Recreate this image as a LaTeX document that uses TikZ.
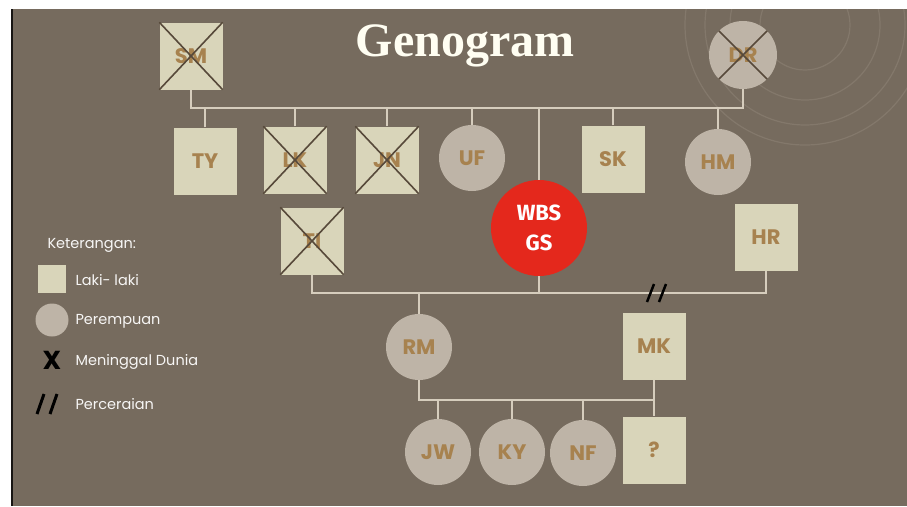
\documentclass[tikz,border=0pt]{standalone}
\usepackage{fontspec}
\setmainfont{Liberation Serif}
\newfontfamily\popfont{Poppins}
\newfontfamily\firafont{Fira Sans}
\usetikzlibrary{positioning}
\definecolor{bgbrown}{HTML}{766B5E}
\definecolor{cream}{HTML}{D9D5BA}
\definecolor{greyc}{HTML}{BEB4A7}
\definecolor{labbrown}{HTML}{A7824F}
\definecolor{linec}{HTML}{D6CDBD}
\definecolor{crossc}{HTML}{57493A}
\definecolor{wbsred}{HTML}{E4281C}

\begin{document}
\begin{tikzpicture}[x=1pt,y=-1pt,
    male/.style={fill=cream,minimum width=63pt,minimum height=67pt,inner sep=0pt,
      font=\popfont\bfseries\fontsize{21}{24}\selectfont,text=labbrown},
    female/.style={circle,fill=greyc,minimum size=66pt,inner sep=0pt,
      font=\popfont\bfseries\fontsize{21}{24}\selectfont,text=labbrown},
    link/.style={draw=linec,line width=2pt},
    dead/.style={draw=crossc,line width=1.6pt},
    legtext/.style={anchor=west,text=white!94!bgbrown,font=\popfont\fontsize{14.5}{16}\selectfont},
    split/.style={draw=black,line width=3pt}]
    \useasboundingbox (0,0) rectangle (907,506);
    \fill[white] (0,0) rectangle (907,506);
    \fill[bgbrown] (13,9) rectangle (907,506);
    \fill[black!80!bgbrown] (11,9) rectangle (13,506);
    % decorative rings
    \begin{scope}
        \clip (13,9) rectangle (907,506);
        \foreach \r in {45,75,100,120}
            \draw[linec,opacity=0.14,line width=1.2pt] (805,25) circle (\r);
    \end{scope}
    \node[text=white!95!yellow,font=\bfseries\fontsize{48}{52}\selectfont] (title) at (465,46) {Genogram};

    % grandparents
    \node[male] (sm) at (191,56) {SM};
    \node[female,minimum size=68pt] (dr) at (743,55) {DR};
    \coordinate (m1) at (465,108);
    % children
    \node[male] (ty) at (205,161) {TY};
    \node[male] (lk) at (295,160) {LK};
    \node[male] (jn) at (387,160) {JN};
    \node[female] (uf) at (472,158) {UF};
    \node[circle,fill=wbsred,minimum size=96pt,inner sep=0pt,align=center,text=white,
          font=\firafont\bfseries\fontsize{22}{30}\selectfont] (wbs) at (539,228) {WBS\\GS};
    \node[male] (sk) at (613,159) {SK};
    \node[female] (hm) at (718,162) {HM};
    \node[male] (ti) at (312,241) {TI};
    \node[male] (hr) at (766,237) {HR};
    \coordinate (m2) at (539,293);
    % grandchildren
    \node[female] (rm) at (419,347) {RM};
    \node[male] (mk) at (654,346) {MK};
    \coordinate (m3) at (540,400);
    \node[female] (jw) at (438,452) {JW};
    \node[female] (ky) at (512,452) {KY};
    \node[female] (nf) at (583,453) {NF};
    \node[male] (q) at (654,450) {?};

    % connectors
    \draw[link] (sm.south) |- (m1) -| (dr.south);
    \foreach \n in {ty,lk,jn,uf,wbs,sk,hm}
        \draw[link] (\n.north) -- (\n.north |- m1);
    \draw[link] (ti.south) |- (m2) -| (hr.south);
    \draw[link] (wbs.south) -- (m2);
    \draw[link] (rm.north) -- (rm.north |- m2);
    \draw[link] (rm.south) |- (m3) -| (mk.south);
    \draw[link] (mk.south) -- (q.north);
    \foreach \n in {jw,ky,nf}
        \draw[link] (\n.north) -- (\n.north |- m3);

    % deceased
    \foreach \n in {sm,lk,jn,ti}{
        \draw[dead] (\n.north west) -- (\n.south east);
        \draw[dead] (\n.north east) -- (\n.south west);
    }
    \draw[dead] (dr.north west) -- (dr.south east);
    \draw[dead] (dr.north east) -- (dr.south west);

    % divorce
    \draw[split,line width=2.5pt] (647,302) -- (654,284);
    \draw[split,line width=2.5pt] (659,302) -- (666,284);

    % legend
    \node[legtext] (ket) at (44,245) {Keterangan:};
    \node[fill=cream,minimum size=28pt,inner sep=0pt] (lm) at (52,279) {};
    \node[legtext] at (72,280) {Laki- laki};
    \node[circle,fill=greyc,minimum size=33pt,inner sep=0pt] (lf) at (52,320) {};
    \node[legtext] at (72,321) {Perempuan};
    \node[text=black,font=\popfont\bfseries\fontsize{26}{28}\selectfont] (lx) at (52,360) {X};
    \node[legtext] at (72,362) {Meninggal Dunia};
    \draw[split] (37,414) -- (44,394);
    \draw[split] (50,414) -- (57,394);
    \node[legtext] at (72,404) {Perceraian};
\end{tikzpicture}
\end{document}
